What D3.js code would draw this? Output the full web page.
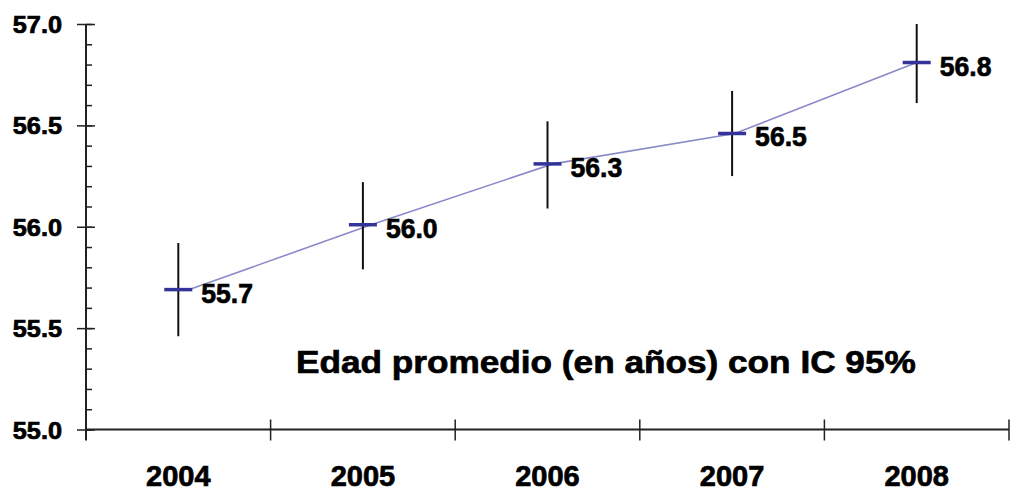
<!DOCTYPE html>
<head>
    <meta charset="UTF-8">
    <title>Edad promedio</title>
</head>
<style>
    body { margin: 0; background: #fff; }
    text { font-family: "Liberation Sans", Arial, sans-serif; font-weight: bold; fill: #000;
           stroke: #000; stroke-width: 0.7px; }
</style>
<body>
<script src="https://d3js.org/d3.v7.min.js"></script>
<script>
    // datos
    var years = ["2004", "2005", "2006", "2007", "2008"];
    var means = [55.69, 56.01, 56.31, 56.46, 56.81];
    var lower = [55.46, 55.79, 56.09, 56.25, 56.61];
    var upper = [55.92, 56.22, 56.52, 56.67, 57.00];
    var yTicks = [55.0, 55.5, 56.0, 56.5, 57.0];
    var title = "Edad promedio (en años) con IC 95%";

    var width = 1011, height = 491;
    var margin = {left: 86, right: 1009, top: 24, bottom: 429.5};

    var svg = d3.select("body").append("svg")
        .attr("width", width)
        .attr("height", height);

    var x = d3.scaleBand().domain(years).range([margin.left, margin.right]);
    var y = d3.scaleLinear().domain([55, 57]).range([margin.bottom, margin.top]);
    // la linea une puntos algo desplazados respecto al centro de cada banda
    var xl = d3.scalePoint().domain(years)
        .range([x("2004") + x.bandwidth() / 2 + 11, x("2008") + x.bandwidth() / 2]);

    var fmt = d3.format(".1f");

    // eje y: marcas menores y mayores
    var yAxis = svg.append("g").attr("transform", "translate(" + margin.left + ",0)");
    yAxis.append("g")
        .call(d3.axisLeft(y).tickValues(d3.range(55, 57.001, 0.1)).tickSize(-6).tickFormat(""))
        .call(function(g) { g.select(".domain").remove(); })
        .selectAll("line").attr("stroke", "#222").attr("stroke-width", 1.5);
    yAxis.append("g")
        .call(d3.axisLeft(y).tickValues(yTicks).tickSizeOuter(0).tickFormat(""))
        .call(function(g) { g.select(".domain").remove(); })
        .selectAll("line").attr("x2", 9).attr("x1", -9).attr("stroke", "#222").attr("stroke-width", 1.5);
    yAxis.append("line")
        .attr("y1", margin.top).attr("y2", margin.bottom + 11)
        .attr("stroke", "#222").attr("stroke-width", 2);

    svg.selectAll(".ylab").data(yTicks).enter().append("text")
        .attr("class", "ylab")
        .attr("text-anchor", "end")
        .attr("font-size", 23)
        .attr("transform", function(d) { return "translate(62," + (y(d) + 9) + ") scale(1.1,1)"; })
        .text(function(d) { return fmt(d); });

    // eje x
    var bounds = years.map(function(d) { return x(d); }).concat([margin.right]);
    svg.append("line")
        .attr("x1", margin.left).attr("x2", margin.right)
        .attr("y1", margin.bottom).attr("y2", margin.bottom)
        .attr("stroke", "#222").attr("stroke-width", 2);
    svg.selectAll(".xtick").data(bounds.slice(1)).enter().append("line")
        .attr("class", "xtick")
        .attr("x1", function(d) { return d; }).attr("x2", function(d) { return d; })
        .attr("y1", margin.bottom - 10).attr("y2", margin.bottom + 11)
        .attr("stroke", "#222").attr("stroke-width", 1.5);

    svg.selectAll(".xlab").data(years).enter().append("text")
        .attr("class", "xlab")
        .attr("text-anchor", "middle")
        .attr("font-size", 29)
        .attr("x", function(d) { return x(d) + x.bandwidth() / 2; })
        .attr("y", 486)
        .text(function(d) { return d; });

    // linea de tendencia
    var line = d3.line()
        .x(function(d, i) { return xl(years[i]); })
        .y(function(d) { return y(d); });
    svg.append("path")
        .datum(means)
        .attr("d", line)
        .attr("fill", "none")
        .attr("stroke", "#8a8acb")
        .attr("stroke-width", 1.6);

    // intervalos de confianza
    svg.selectAll(".ci").data(years).enter().append("line")
        .attr("class", "ci")
        .attr("x1", function(d) { return x(d) + x.bandwidth() / 2; })
        .attr("x2", function(d) { return x(d) + x.bandwidth() / 2; })
        .attr("y1", function(d, i) { return y(upper[i]); })
        .attr("y2", function(d, i) { return y(lower[i]); })
        .attr("stroke", "#111").attr("stroke-width", 2);

    // marcas de la media
    svg.selectAll(".mean").data(years).enter().append("line")
        .attr("class", "mean")
        .attr("x1", function(d) { return x(d) + x.bandwidth() / 2 - 14; })
        .attr("x2", function(d) { return x(d) + x.bandwidth() / 2 + 14; })
        .attr("y1", function(d, i) { return y(means[i]); })
        .attr("y2", function(d, i) { return y(means[i]); })
        .attr("stroke", "#333399").attr("stroke-width", 3.5);

    svg.selectAll(".vlab").data(years).enter().append("text")
        .attr("class", "vlab")
        .attr("font-size", 28)
        .attr("transform", function(d, i) {
            return "translate(" + (x(d) + x.bandwidth() / 2 + 23) + "," + (y(means[i]) + 13) + ") scale(0.95,1)";
        })
        .text(function(d, i) { return fmt(means[i]); });

    svg.append("text")
        .attr("font-size", 32)
        .attr("transform", "translate(296,373) scale(1.1,1)")
        .text(title);
</script>
</body>
